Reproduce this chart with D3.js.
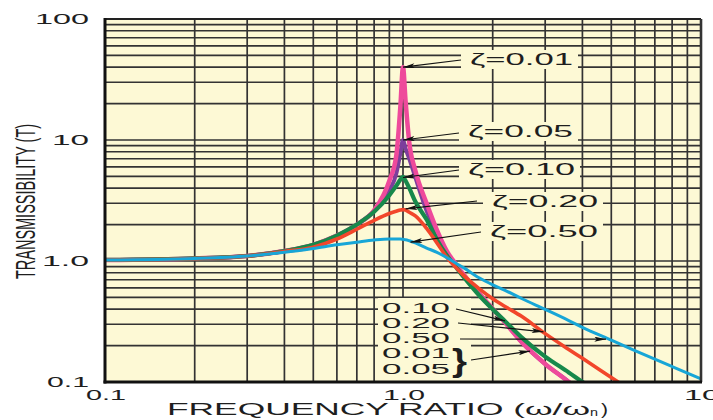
<!DOCTYPE html>
<html>
<head>
<meta charset="utf-8">
<script src="https://cdn.jsdelivr.net/npm/d3@7"></script>
<style>
  body { margin: 0; background: #fff; }
  svg { display: block; }
</style>
</head>
<body>
<svg id="chart" width="713" height="420"></svg>
<script>
// frequency ratio (w/wn) where the curves were read
const ratio = [0.1, 0.2, 0.3, 0.4, 0.5, 0.6, 0.7, 0.8, 0.9, 0.95, 0.98, 1.0, 1.02, 1.05, 1.1, 1.2, 1.3, 1.4, 1.5, 1.6, 1.8, 2.0, 2.2, 2.5, 3.0, 3.6, 4.0, 5.0, 6.0, 8.0, 10];

// transmissibility, one array per damping ratio
const zeta001 = [1.02, 1.05, 1.10, 1.21, 1.36, 1.62, 2.0, 2.62, 4.6, 7.5, 19, 40, 21, 9.5, 5.6, 3.0, 1.8, 1.22, 0.95, 0.77, 0.543, 0.404, 0.31, 0.214, 0.141, 0.1, 0.08, null, null, null, null];
const zeta005 = [1.02, 1.05, 1.10, 1.21, 1.36, 1.62, 2.0, 2.6, 3.8, 5.3, 7.8, 10, 8.5, 7.0, 4.9, 2.6, 1.65, 1.17, 0.93, 0.76, 0.535, 0.40, 0.31, 0.214, 0.141, 0.1, 0.08, null, null, null, null];
const zeta010 = [1.02, 1.05, 1.10, 1.21, 1.36, 1.62, 2.0, 2.55, 3.5, 4.2, 4.7, 4.97, 4.6, 4.0, 3.1, 2.2, 1.5, 1.12, 0.9, 0.735, 0.521, 0.399, 0.318, 0.234, 0.162, 0.12, 0.1, 0.07, null, null, null];
const zeta020 = [1.02, 1.05, 1.10, 1.20, 1.30, 1.52, 1.83, 2.17, 2.47, 2.58, 2.64, 2.66, 2.64, 2.53, 2.36, 1.86, 1.41, 1.08, 0.89, 0.757, 0.591, 0.487, 0.421, 0.349, 0.251, 0.186, 0.157, 0.109, 0.081, null, null];
const zeta050 = [1.02, 1.05, 1.10, 1.18, 1.27, 1.36, 1.43, 1.49, 1.52, 1.52, 1.52, 1.51, 1.50, 1.47, 1.41, 1.28, 1.18, 1.07, 0.963, 0.877, 0.726, 0.635, 0.572, 0.49, 0.398, 0.322, 0.283, 0.222, 0.182, 0.134, 0.106];

// tick labels
const xTicks = [0.1, 1, 10];
const xTickLabels = ["0.1", "1.0", "10"];
const yTicks = [0.1, 1, 10, 100];
const yTickLabels = ["0.1", "1.0", "10", "100"];

// annotation texts and the curve points their arrows point at
const zetaLabels = ["\u03B6=0.01", "\u03B6=0.05", "\u03B6=0.10", "\u03B6=0.20", "\u03B6=0.50"];
const zetaTips = [[1.0, 40], [1.0, 10], [1.0, 4.9], [1.02, 2.7], [1.06, 1.43]];
const tailLabels = ["0.10", "0.20", "0.50", "0.01", "0.05"];
const tailTips = [[2.2, 0.32], [2.96, 0.26], [4.8, 0.226], [2.67, 0.18], null];

// ---- layout / styling ----
const width = 713, height = 420;
const margin = { left: 105, right: 12, top: 19, bottom: 38 };
const paper = "#FDF9D5";
const font = "'Liberation Sans', Arial, Helvetica, sans-serif";

const series = [
  { values: zeta005, color: "#7D3E9C", width: 4 },
  { values: zeta001, color: "#EE4A9B", width: 4.5 },
  { values: zeta010, color: "#17894B", width: 4.2 },
  { values: zeta020, color: "#F2462B", width: 3.6 },
  { values: zeta050, color: "#17A6D7", width: 3 }
];

// label placement (text start x, baseline y, stretched length) and arrow tails
const zetaLayout = [
  { x: 470, y: 65, len: 103, tail: [461, 60] },
  { x: 468, y: 137, len: 105, tail: [459, 133] },
  { x: 468, y: 175, len: 107, tail: [459, 170] },
  { x: 492, y: 207, len: 106, tail: [477, 201] },
  { x: 490, y: 237, len: 108, tail: [481, 232] }
];
const tailLayout = [
  { y: 313, tail: [456, 309] },
  { y: 328, tail: [458, 323] },
  { y: 343, tail: [460, 339] },
  { y: 358, tail: [471, 360] },
  { y: 374, tail: null }
];

const svg = d3.select("#chart");

const x = d3.scaleLog()
  .domain([0.1, 10])
  .range([margin.left, width - margin.right]);

const y = d3.scaleLog()
  .domain([0.1, 100])
  .range([height - margin.bottom, margin.top]);

const [x0, x1] = x.range();
const [y0, y1] = y.range();

// text squeezed/stretched to a fixed length, like the original artwork
function stretchedText(parent, str, px, py, size, len) {
  return parent.append("text")
    .attr("x", px)
    .attr("y", py)
    .attr("font-family", font)
    .attr("font-size", size)
    .attr("fill", "#1e1e1e")
    .attr("textLength", len)
    .attr("lengthAdjust", "spacingAndGlyphs")
    .text(str);
}

const defs = svg.append("defs");
defs.append("clipPath").attr("id", "plot-clip")
  .append("rect")
  .attr("x", x0).attr("y", y1)
  .attr("width", x1 - x0).attr("height", y0 - y1);

defs.append("marker")
  .attr("id", "arrow")
  .attr("viewBox", "0 0 14 6")
  .attr("refX", 14).attr("refY", 3)
  .attr("markerWidth", 14).attr("markerHeight", 5)
  .attr("markerUnits", "userSpaceOnUse")
  .attr("orient", "auto")
  .append("path")
  .attr("d", "M0,0 L14,3 L0,6 L3,3 Z")
  .attr("fill", "#111");

// paper
svg.append("rect")
  .attr("x", x0).attr("y", y1)
  .attr("width", x1 - x0).attr("height", y0 - y1)
  .attr("fill", paper);

// log grid
const grid = svg.append("g")
  .attr("stroke", "#333")
  .attr("stroke-width", 1.7);

grid.selectAll(".vline")
  .data(x.ticks())
  .enter().append("line")
  .attr("class", "vline")
  .attr("x1", d => x(d)).attr("x2", d => x(d))
  .attr("y1", y1).attr("y2", y0);

grid.selectAll(".hline")
  .data(y.ticks())
  .enter().append("line")
  .attr("class", "hline")
  .attr("x1", x0).attr("x2", x1)
  .attr("y1", d => y(d)).attr("y2", d => y(d));

// cream boxes behind the labels
svg.selectAll(".zbox")
  .data(zetaLayout)
  .enter().append("rect")
  .attr("x", d => d.x - 9)
  .attr("y", d => d.y - 15)
  .attr("width", d => d.len + 14)
  .attr("height", 19)
  .attr("fill", paper);

svg.append("rect")
  .attr("x", 378).attr("y", 298)
  .attr("width", 93).attr("height", y0 - 298 - 1)
  .attr("fill", paper);

// curves
const line = d3.line()
  .defined(d => d[1] != null)
  .x(d => x(d[0]))
  .y(d => y(d[1]))
  .curve(d3.curveMonotoneX);

svg.append("g")
  .attr("clip-path", "url(#plot-clip)")
  .selectAll("path")
  .data(series)
  .enter().append("path")
  .attr("fill", "none")
  .attr("stroke", d => d.color)
  .attr("stroke-width", d => d.width)
  .attr("stroke-linejoin", "round")
  .attr("d", d => line(ratio.map((r, i) => [r, d.values[i]])));

// frame
svg.append("line").attr("x1", x0).attr("x2", x1).attr("y1", y1).attr("y2", y1)
  .attr("stroke", "#222").attr("stroke-width", 2);
svg.append("line").attr("x1", x1).attr("x2", x1).attr("y1", y1).attr("y2", y0)
  .attr("stroke", "#333").attr("stroke-width", 2.6);
svg.append("line").attr("x1", x0).attr("x2", x0).attr("y1", y1 - 1).attr("y2", y0 + 1.5)
  .attr("stroke", "#111").attr("stroke-width", 3);
svg.append("line").attr("x1", x0 - 1.5).attr("x2", x1 + 1).attr("y1", y0).attr("y2", y0)
  .attr("stroke", "#111").attr("stroke-width", 3);

// tick labels
const xLabelLen = [40, 42, 36];
xTicks.forEach((t, i) => {
  stretchedText(svg, xTickLabels[i], x(t) - xLabelLen[i] / 2 + 1, y0 + 18, 14, xLabelLen[i]);
});

const yLabelLen = [42, 47, 37, 54];
yTicks.forEach((t, i) => {
  stretchedText(svg, yTickLabels[i], 89 - yLabelLen[i], y(t) + 5, 14, yLabelLen[i]);
});

// axis titles (the y title is narrow and tall, so scale it across its baseline)
svg.append("text")
  .attr("transform", "translate(35,201.5) rotate(-90) scale(1,1.9)")
  .attr("text-anchor", "middle")
  .attr("font-family", font)
  .attr("font-size", 14.5)
  .attr("fill", "#1e1e1e")
  .text("TRANSMISSIBILITY (T)");

stretchedText(svg, "FREQUENCY RATIO (\u03C9/\u03C9", 167, 415, 16, 423);
stretchedText(svg, "n", 590, 416, 11, 8);
stretchedText(svg, ")", 601, 415, 16, 7);

// arrows
const arrows = svg.append("g")
  .attr("stroke", "#111")
  .attr("stroke-width", 1.2)
  .attr("fill", "none");

zetaLayout.forEach((d, i) => {
  const [r, t] = zetaTips[i];
  arrows.append("line")
    .attr("x1", d.tail[0]).attr("y1", d.tail[1])
    .attr("x2", x(r)).attr("y2", y(t))
    .attr("marker-end", "url(#arrow)");
  stretchedText(svg, zetaLabels[i], d.x, d.y, 16, d.len);
});

tailLayout.forEach((d, i) => {
  stretchedText(svg, tailLabels[i], 382, d.y, 14, 68);
  if (d.tail && tailTips[i]) {
    const [r, t] = tailTips[i];
    arrows.append("line")
      .attr("x1", d.tail[0]).attr("y1", d.tail[1])
      .attr("x2", x(r)).attr("y2", y(t))
      .attr("marker-end", "url(#arrow)");
  }
});

// brace grouping 0.01 and 0.05
stretchedText(svg, "}", 452, 371, 32, 15)
  .attr("font-weight", "bold");
</script>
</body>
</html>
